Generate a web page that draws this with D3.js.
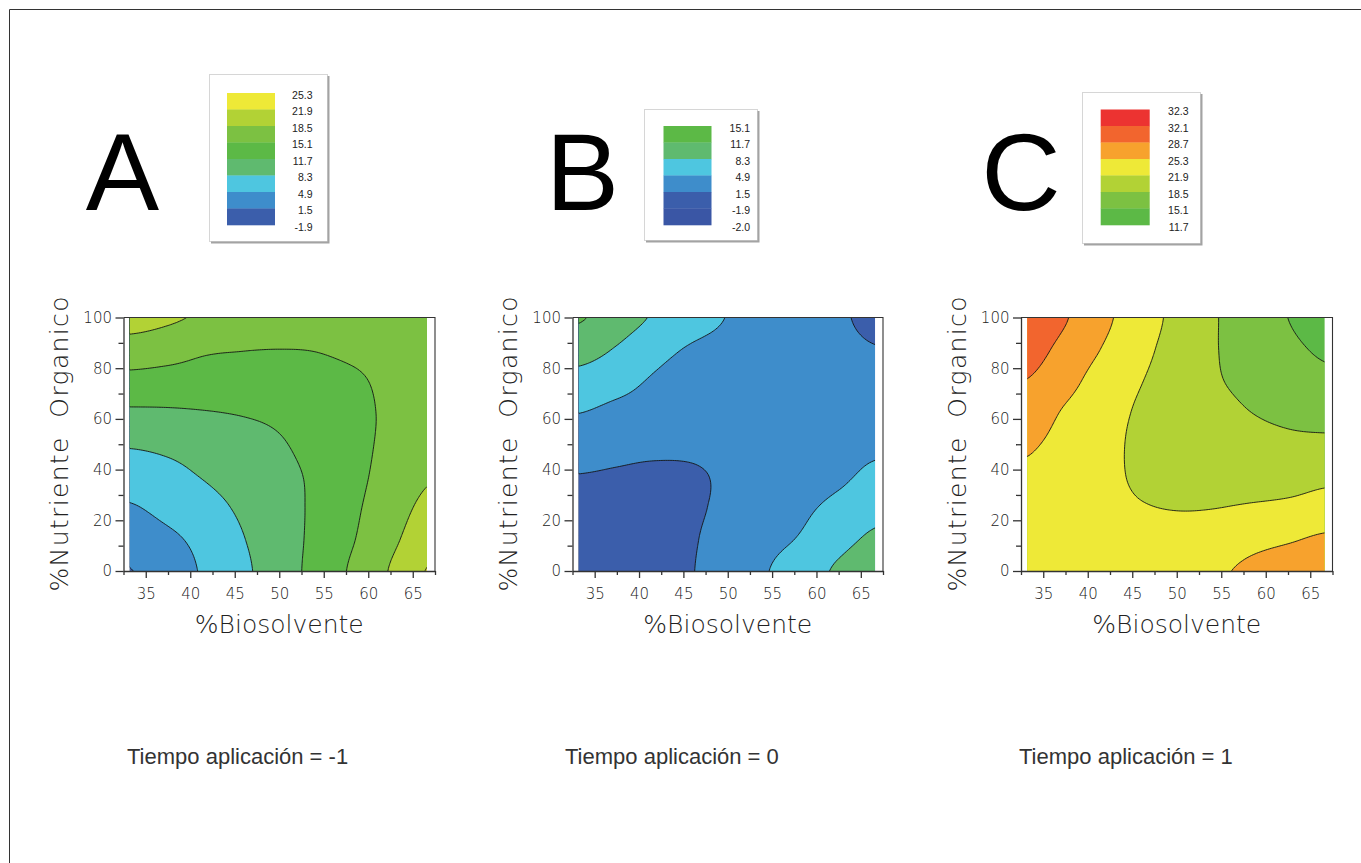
<!DOCTYPE html>
<html><head><meta charset="utf-8">
<script src="https://cdn.jsdelivr.net/npm/d3@7"></script>
<style>body{margin:0;background:#fff} svg{display:block}</style>
</head><body><svg id="c" width="1361" height="863"></svg>
<script>
// ---------------- data ----------------
const gridX = [33.2, 37.4, 41.6, 45.8, 50, 54.2, 58.4, 62.6, 66.8];   // %Biosolvente
const gridY = [0, 12.5, 25, 37.5, 50, 62.5, 75, 87.5, 100];           // %Nutriente Organico
// response, rows = gridY (bottom to top), columns = gridX
const surfaceA = [
  [1.4, 3.2, 5.3, 7.6, 10.1, 12.8, 15.7, 18.8, 22.1],
  [2.9, 4.2, 5.9, 8.1, 10.2, 12.5, 15.0, 17.8, 20.5],
  [4.6, 5.9, 7.2, 8.8, 10.5, 12.3, 14.6, 17.0, 19.3],
  [6.6, 7.4, 8.5, 9.6, 10.8, 12.3, 14.3, 16.3, 18.2],
  [8.6, 9.0, 9.6, 10.4, 11.4, 12.8, 14.3, 15.8, 17.3],
  [11.2, 11.3, 11.55, 11.9, 12.4, 13.3, 14.4, 15.6, 16.8],
  [14.1, 13.9, 13.8, 13.8, 13.8, 14.1, 14.7, 15.8, 16.6],
  [17.0, 16.4, 15.5, 15.2, 15.1, 15.2, 15.7, 16.3, 16.8],
  [19.8, 19.0, 18.0, 16.8, 16.2, 16.2, 16.6, 17.0, 17.3]
];
const surfaceB = [
  [-0.8, -0.9, -0.6, 1.3, 3.0, 4.7, 6.6, 8.9, 10.8],
  [-0.5, -0.8, -0.7, 1.15, 2.6, 4.0, 5.2, 7.2, 9.0],
  [0.2, -0.2, -0.3, 1.0, 2.1, 3.4, 4.4, 5.7, 7.2],
  [1.4, 1.1, 0.8, 1.1, 2.0, 3.0, 3.7, 4.4, 5.6],
  [3.15, 2.6, 2.3, 2.2, 2.4, 2.8, 3.2, 3.8, 4.3],
  [4.95, 4.1, 3.6, 3.1, 2.9, 2.8, 2.9, 3.1, 3.3],
  [7.2, 6.1, 4.6, 3.8, 3.4, 3.0, 2.7, 2.5, 2.4],
  [9.6, 8.1, 6.0, 4.65, 4.0, 3.3, 2.6, 2.1, 1.6],
  [12.0, 10.0, 8.0, 6.2, 4.8, 3.6, 2.6, 1.8, 0.9]
];
const surfaceC = [
  [23.8, 23.4, 23.2, 23.3, 23.7, 24.7, 26.0, 27.0, 27.8],
  [23.9, 23.4, 23.0, 22.8, 22.8, 23.3, 24.3, 25.0, 25.8],
  [24.2, 23.5, 22.9, 22.1, 21.8, 21.85, 22.2, 22.6, 23.3],
  [24.8, 23.8, 22.9, 21.4, 20.8, 20.6, 20.4, 20.5, 21.1],
  [25.7, 24.3, 23.1, 21.2, 20.3, 19.8, 19.3, 19.0, 19.0],
  [27.1, 25.0, 23.4, 21.5, 20.2, 19.3, 18.5, 18.0, 17.7],
  [28.6, 26.4, 24.0, 22.1, 20.3, 18.8, 17.8, 16.8, 15.9],
  [30.1, 27.7, 25.2, 22.9, 20.6, 18.7, 17.2, 15.8, 14.6],
  [31.5, 29.0, 26.1, 23.6, 21.0, 18.75, 16.8, 15.05, 13.6]
];
const levelsA = [-1.9, 1.5, 4.9, 8.3, 11.7, 15.1, 18.5, 21.9, 25.3];
const levelsB = [-2.0, -1.9, 1.5, 4.9, 8.3, 11.7, 15.1];
const levelsC = [11.7, 15.1, 18.5, 21.9, 25.3, 28.7, 32.1, 32.3];
const xTicks = [35, 40, 45, 50, 55, 60, 65];
const xMinorTicks = [32.5, 37.5, 42.5, 47.5, 52.5, 57.5, 62.5, 67.5];
const yTicks = [0, 20, 40, 60, 80, 100];
const yMinorTicks = [10, 30, 50, 70, 90];
const panelLetters = ["A", "B", "C"];
const captions = ["Tiempo aplicación = -1", "Tiempo aplicación = 0", "Tiempo aplicación = 1"];
const xTitle = "%Biosolvente";
const yTitle = "%Nutriente  Organico";

// ---------------- styles ----------------
const bandColor = {
  "-2": "#3a56a5", "-1.9": "#3b5eab", "1.5": "#3e8dcb", "4.9": "#4ec6e0",
  "8.3": "#5fba6f", "11.7": "#5cb946", "15.1": "#7cc142", "18.5": "#b2d235",
  "21.9": "#eee937", "25.3": "#f7a22d", "28.7": "#f2652e", "32.1": "#ec3331"
};
const colorOf = v => bandColor[String(v)];
const yTop = 317.5, yBot = 571;
const dataX0 = 33.2, dataX1 = 66.6;
const layout = [
  {x0: 123.5, x1: 435, letterX: 122.5, capX: 127,
   lg: {bx: 209, by: 74, bw: 118, bh: 167, cx: 227, cw: 48, lx: 312.5}},
  {x0: 572.5, x1: 883, letterX: 582.5, capX: 565,
   lg: {bx: 644, by: 109, bw: 113, bh: 131, cx: 663.5, cw: 48, lx: 750}},
  {x0: 1021, x1: 1332.5, letterX: 1021, capX: 1019,
   lg: {bx: 1082, by: 92, bw: 118, bh: 151, cx: 1100.7, cw: 49, lx: 1188.5}}
];
const surfaces = [surfaceA, surfaceB, surfaceC];
const levelSets = [levelsA, levelsB, levelsC];

const svg = d3.select("#c");
// outer frame
svg.append("path").attr("d", "M9.5,863V9.5H1361").attr("fill", "none").attr("stroke", "#333").attr("stroke-width", 1);

// smooth resampling of the read grid (Catmull-Rom)
function cr(p0, p1, p2, p3, t) {
  return 0.5 * (2 * p1 + (-p0 + p2) * t + (2 * p0 - 5 * p1 + 4 * p2 - p3) * t * t + (-p0 + 3 * p1 - 3 * p2 + p3) * t * t * t);
}
function sample1(arr, u) {
  const n = arr.length;
  let i = Math.floor(u); if (i > n - 2) i = n - 2; if (i < 0) i = 0;
  const t = u - i;
  return cr(arr[Math.max(i - 1, 0)], arr[i], arr[i + 1], arr[Math.min(i + 2, n - 1)], t);
}
const NX = 169, NY = 101;
const gx0 = gridX[0], gx1 = gridX[gridX.length - 1], gy0 = gridY[0], gy1 = gridY[gridY.length - 1];
const stepX = (gx1 - gx0) / (NX - 1), stepY = (gy1 - gy0) / (NY - 1);
function resample(z) {
  const out = new Float64Array(NX * NY);
  const cx = (gridX[1] - gridX[0]), cy = (gridY[1] - gridY[0]);
  for (let j = 0; j < NY; j++) {
    const v = (j * stepY) / cy;
    for (let i = 0; i < NX; i++) {
      const u = (i * stepX) / cx;
      const col = z.map(row => sample1(row, u));
      out[j * NX + i] = sample1(col, v);
    }
  }
  return out;
}

const fontAxis = "'DejaVu Sans', sans-serif";

layout.forEach((L, p) => {
  const g = svg.append("g");
  const xS = d3.scaleLinear().domain([32.5, 67.5]).range([L.x0, L.x1]);
  const yS = d3.scaleLinear().domain([0, 100]).range([yBot, yTop]);
  const levels = levelSets[p];
  const values = resample(surfaces[p]);

  const clipId = "clip" + p;
  svg.append("clipPath").attr("id", clipId).append("rect")
    .attr("x", xS(dataX0)).attr("y", yS(100))
    .attr("width", xS(dataX1) - xS(dataX0)).attr("height", yS(0) - yS(100));

  const proj = d3.geoTransform({
    point(px, py) { this.stream.point(xS(gx0 + (px - 0.5) * stepX), yS(gy0 + (py - 0.5) * stepY)); }
  });
  const path = d3.geoPath(proj);
  const contours = d3.contours().size([NX, NY]).thresholds(levels)(values);

  const cg = g.append("g").attr("clip-path", `url(#${clipId})`);
  cg.append("rect").attr("x", xS(dataX0)).attr("y", yS(100))
    .attr("width", xS(dataX1) - xS(dataX0)).attr("height", yS(0) - yS(100))
    .attr("fill", colorOf(levels[0]));
  cg.selectAll("path.fill").data(contours.filter((c, k) => k < levels.length - 1))
    .join("path").attr("class", "fill").attr("d", path)
    .attr("fill", d => colorOf(d.value)).attr("stroke", "none");
  cg.selectAll("path.line").data(contours).join("path").attr("class", "line")
    .attr("d", path).attr("fill", "none").attr("stroke", "#151515").attr("stroke-width", 0.9);

  // frame top/right
  g.append("path").attr("d", `M${L.x0},${yTop}H${L.x1}V${yBot}`).attr("fill", "none")
    .attr("stroke", "#333").attr("stroke-width", 1.1);

  const styleAxis = a => {
    a.select(".domain").attr("stroke", "#333").attr("stroke-width", 1.3);
    a.selectAll(".tick line").attr("stroke", "#333").attr("stroke-width", 1.3);
    a.selectAll("text").attr("font-family", fontAxis).attr("font-size", 15)
      .attr("font-weight", 200).attr("fill", "#222");
  };
  g.append("g").attr("transform", `translate(0,${yBot})`)
    .call(d3.axisBottom(xS).tickValues(xMinorTicks).tickSize(4).tickSizeOuter(0).tickFormat(""))
    .call(styleAxis).call(a => a.select(".domain").remove());
  g.append("g").attr("transform", `translate(0,${yBot})`)
    .call(d3.axisBottom(xS).tickValues(xTicks).tickSize(7).tickSizeOuter(0).tickPadding(10.5))
    .call(styleAxis);
  g.append("g").attr("transform", `translate(${L.x0},0)`)
    .call(d3.axisLeft(yS).tickValues(yMinorTicks).tickSize(5).tickSizeOuter(0).tickFormat(""))
    .call(styleAxis).call(a => a.select(".domain").remove());
  g.append("g").attr("transform", `translate(${L.x0},0)`)
    .call(d3.axisLeft(yS).tickValues(yTicks).tickSize(8).tickSizeOuter(0).tickPadding(3.5))
    .call(styleAxis);

  // axis titles
  g.append("text").attr("x", (L.x0 + L.x1) / 2).attr("y", 633)
    .attr("text-anchor", "middle").attr("font-family", fontAxis).attr("font-size", 25)
    .attr("font-weight", 200).attr("fill", "#222").text(xTitle);
  g.append("text").attr("transform", `translate(${L.x0 - 55.2},444) rotate(-90)`)
    .attr("text-anchor", "middle").attr("font-family", fontAxis).attr("font-size", 25)
    .attr("font-weight", 200).attr("fill", "#222").style("white-space", "pre")
    .attr("textLength", 295).attr("lengthAdjust", "spacing").text(yTitle);

  // panel letter
  svg.append("text").attr("x", L.letterX).attr("y", 210).attr("text-anchor", "middle")
    .attr("font-family", "'Liberation Sans', Arial, sans-serif").attr("font-size", 110)
    .attr("fill", "#000").text(panelLetters[p]);

  // caption
  svg.append("text").attr("x", L.capX).attr("y", 764)
    .attr("font-family", "'Liberation Sans', Arial, sans-serif").attr("font-size", 22)
    .attr("fill", "#333").text(captions[p]);

  // legend
  const lg = L.lg, n = levels.length - 1, bandH = 16.5, bottom = 225;
  const top = bottom - n * bandH;
  const lgG = svg.append("g");
  lgG.append("rect").attr("x", lg.bx + 0.5).attr("y", lg.by + 0.5).attr("width", lg.bw).attr("height", lg.bh)
    .attr("fill", "#fff").attr("stroke", "#d6d6d6");
  lgG.append("path").attr("d", `M${lg.bx + lg.bw + 1.5},${lg.by + 2}V${lg.by + lg.bh + 1.5}H${lg.bx + 2}`)
    .attr("fill", "none").attr("stroke", "#a3a3a3").attr("stroke-width", 2);
  const bands = d3.range(n).map(k => levels[n - 1 - k]);
  lgG.selectAll("rect.band").data(bands).join("rect").attr("class", "band")
    .attr("x", lg.cx).attr("y", (d, k) => top + k * bandH).attr("width", lg.cw).attr("height", bandH + 0.3)
    .attr("fill", d => colorOf(d));
  const labels = levels.slice().reverse();
  lgG.selectAll("text").data(labels).join("text")
    .attr("x", lg.lx).attr("y", (d, k) => top + k * bandH + 5.8).attr("text-anchor", "end")
    .attr("font-family", "'Liberation Sans', Arial, sans-serif").attr("font-size", 10.5)
    .attr("fill", "#222").text(d => d.toFixed(1));
});
</script>
</body></html>
